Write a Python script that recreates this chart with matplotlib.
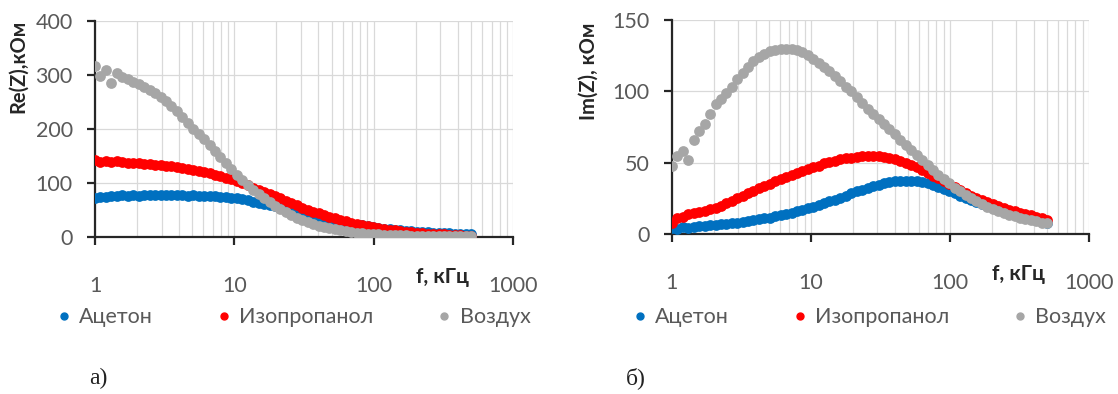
import matplotlib
matplotlib.use("Agg")
import matplotlib.pyplot as plt
from matplotlib.lines import Line2D
from matplotlib.ticker import LogLocator, NullFormatter

plt.rcParams['font.family'] = ['Lato', 'DejaVu Sans']

# frequency sweep, kHz
freq = [1.00, 1.09, 1.20, 1.31, 1.43, 1.57, 1.72, 1.88, 2.06, 2.25,
        2.46, 2.69, 2.95, 3.23, 3.53, 3.86, 4.23, 4.63, 5.06, 5.54,
        6.06, 6.63, 7.26, 7.94, 8.69, 9.51, 10.4, 11.4, 12.5, 13.6,
        14.9, 16.3, 17.9, 19.5, 21.4, 23.4, 25.6, 28.0, 30.7, 33.6,
        36.7, 40.2, 44.0, 48.1, 52.6, 57.6, 63.0, 69.0, 75.5, 82.6,
        90.4, 98.9, 108, 118, 130, 142, 155, 170, 186, 203,
        222, 243, 266, 292, 319, 349, 382, 418, 457, 500]

# Re(Z), kOhm
re_acetone = [73, 75, 74, 77, 76, 78, 77, 78, 77, 79,
              78, 78, 79, 78, 79, 78, 78, 77, 78, 77,
              77, 76, 76, 75, 74, 73, 72, 70, 68, 66,
              64, 62, 59, 57, 54, 51, 48, 46, 43, 41,
              38, 36, 34, 32, 30, 28, 26.5, 25, 23.5, 22,
              20.5, 19, 17.5, 16, 15, 14, 13, 12, 11, 10,
              9.5, 9, 8.5, 8, 7.5, 7, 6.5, 6, 5.5, 5]
re_ipa = [143, 140, 142, 139, 141, 139, 138, 138, 137, 136,
          135, 134, 133, 132, 131, 130, 128, 127, 125, 123,
          121, 118, 116, 113, 110, 107, 104, 100, 96, 92,
          88, 84, 80, 76, 72, 67, 63, 59, 55, 51,
          47, 44, 41, 38, 35, 32, 30, 27, 25, 23,
          21, 19, 17, 15.5, 14, 12.5, 11, 10, 9, 8,
          7, 6.5, 6, 5.5, 5, 4.5, 4, 3.5, 3, 3]
re_air = [318, 298, 310, 286, 304, 296, 293, 288, 284, 279,
          273, 267, 260, 252, 243, 233, 223, 212, 201, 191,
          181, 170, 159, 148, 137, 126, 116, 106, 97, 88,
          80, 72, 65, 58, 52, 46, 41, 36, 32, 28,
          24.5, 21.5, 19, 16.5, 14.5, 12.5, 11, 9.5, 8.5, 7.5,
          6.5, 6, 5.5, 4.8, 4.3, 3.9, 3.5, 3.2, 3.0, 2.8,
          2.6, 2.4, 2.3, 2.2, 2.1, 2.0, 2.0, 1.9, 1.9, 1.8]

# Im(Z), kOhm
im_acetone = [4, 3.5, 5, 4.5, 5, 5.5, 5.5, 6, 6.5, 7,
              7, 7.5, 8, 8.5, 9, 9.5, 10.5, 11, 11.5, 12.5,
              13, 14, 15, 16, 17, 18, 19, 20.5, 21.5, 23,
              24, 25.5, 27, 28.5, 30, 31, 32.5, 33.5, 34.5, 35.5,
              36.5, 37, 37.5, 37.5, 37.5, 37, 36.5, 35.5, 34.5, 33,
              31.5, 30, 28.5, 27, 25.5, 24, 22.5, 21, 20, 18.5,
              17.5, 16, 15, 14, 13, 12, 11, 10, 9, 8]
im_ipa = [8, 11, 12, 14, 15, 15.5, 16.5, 17.5, 18.5, 20,
          21.5, 23, 25, 27, 28.5, 30, 32, 33.5, 35, 37,
          38.5, 40, 41.5, 43, 44.5, 45.5, 47, 48, 49.5, 50.5,
          51.5, 52.5, 53, 53.5, 54, 54.5, 54.5, 54.5, 54.5, 54,
          53.5, 52.5, 51.5, 50, 48.5, 47, 45, 43, 41, 39,
          37, 35, 33, 31, 29, 27, 25.5, 24, 22.5, 21,
          19.5, 18, 17, 16, 15, 14, 13, 12, 11, 10]
im_air = [48, 55, 58, 52, 66, 72, 77, 84, 91, 95,
          99, 103, 109, 113, 117, 121, 124, 126, 128, 129,
          130, 130, 129.5, 129, 127.5, 125.5, 123, 120, 117, 114,
          111, 107, 103, 100, 96, 92, 88, 84.5, 81, 77,
          73.5, 70, 66, 62.5, 59, 55.5, 52, 48.5, 45, 41.5,
          38.5, 35.5, 32.5, 30, 27.5, 25, 23, 21, 19, 17.5,
          16, 14.5, 13.5, 12.5, 11.5, 10.5, 9.5, 8.8, 8, 7.5]

names = ['Ацетон', 'Изопропанол', 'Воздух']
colors = ['#0070C0', '#FF0000', '#A6A6A6']
tick_col = '#595959'

fig = plt.figure(figsize=(11.18, 3.94), dpi=100)
ax1 = fig.add_axes([0.085, 0.398, 0.374, 0.548])
ax2 = fig.add_axes([0.601, 0.406, 0.373, 0.543])


def style(ax, ymax, ystep, ylabel):
    ax.set_xscale('log')
    ax.set_xlim(1, 1000)
    ax.set_ylim(0, ymax)
    ax.set_axisbelow(True)
    ax.set_xticks([1, 10, 100, 1000])
    ax.set_xticklabels(['1', '10', '100', '1000'])
    ax.xaxis.set_minor_locator(LogLocator(base=10, subs=range(2, 10)))
    ax.xaxis.set_minor_formatter(NullFormatter())
    ax.set_yticks(range(0, ymax + 1, ystep))
    ax.grid(True, which='both', axis='x', color='#D9D9D9', lw=0.9)
    ax.grid(True, which='major', axis='y', color='#D9D9D9', lw=0.9)
    for s in ['top', 'right']:
        ax.spines[s].set_visible(False)
    for s in ['left', 'bottom']:
        ax.spines[s].set_color('#262626')
        ax.spines[s].set_linewidth(1.6)
    ax.tick_params(which='major', length=6, width=1.6, color='#262626',
                   labelcolor=tick_col, labelsize=15.5)
    ax.tick_params(axis='x', which='major', pad=22)
    ax.tick_params(axis='y', which='major', pad=10)
    ax.tick_params(which='minor', length=0)
    ax.set_ylabel(ylabel, fontsize=14.5, fontweight='bold', color='#262626')
    ax.annotate('f, кГц', xy=(0.83, 0), xycoords='axes fraction',
                xytext=(0, -29), textcoords='offset points',
                ha='center', va='center', fontsize=15, fontweight='bold',
                color='#262626')


def draw(ax, ys):
    for y, c in zip(ys, colors):
        ax.scatter(freq, y, s=60, color=c, linewidths=0, zorder=3)


draw(ax1, [re_acetone, re_ipa, re_air])
draw(ax2, [im_acetone, im_ipa, im_air])
style(ax1, 400, 100, 'Re(Z),кОм')
style(ax2, 150, 50, 'Im(Z), кОм')
ax1.yaxis.set_label_coords(-0.16, 0.79)
ax2.yaxis.set_label_coords(-0.175, 0.76)

handles = [Line2D([], [], ls='', marker='o', ms=5, color=c) for c in colors]
for cx in [0.263, 0.778]:
    fig.legend(handles, names, loc='center', bbox_to_anchor=(cx, 0.195),
               ncol=3, frameon=False, fontsize=15.5, labelcolor=tick_col,
               handlelength=0.6, handletextpad=0.4, columnspacing=3.0)

fig.text(0.080, 0.025, 'а)', family='Liberation Serif', fontsize=17, color='#222222')
fig.text(0.560, 0.025, 'б)', family='Liberation Serif', fontsize=17, color='#222222')

fig.savefig('out.png', dpi=100)
